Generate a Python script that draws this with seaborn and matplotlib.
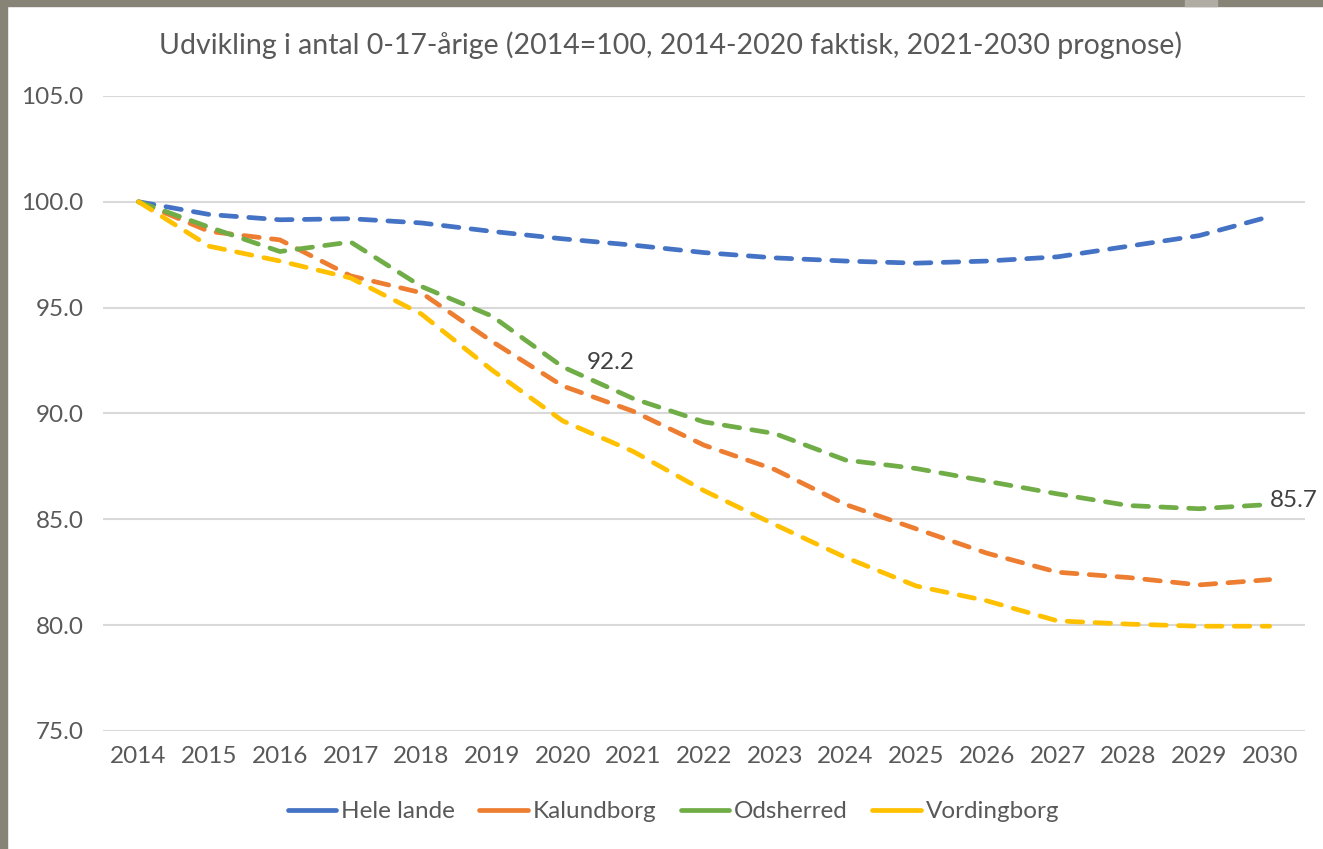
import numpy as np
import pandas as pd
import seaborn as sns
import matplotlib.pyplot as plt
from matplotlib.lines import Line2D
from matplotlib.patches import Rectangle

# Data
years = list(range(2014, 2031))
hele_lande = [100.0, 99.4, 99.15, 99.2, 99.0, 98.6, 98.25, 97.95, 97.6, 97.35,
              97.2, 97.1, 97.2, 97.4, 97.9, 98.4, 99.3]
kalundborg = [100.0, 98.6, 98.2, 96.5, 95.7, 93.4, 91.3, 90.1, 88.5, 87.35,
              85.7, 84.55, 83.4, 82.5, 82.25, 81.9, 82.15]
odsherred = [100.0, 98.8, 97.65, 98.1, 96.0, 94.6, 92.2, 90.7, 89.6, 89.05,
             87.8, 87.4, 86.8, 86.2, 85.65, 85.5, 85.7]
vordingborg = [100.0, 97.9, 97.2, 96.4, 94.7, 92.05, 89.65, 88.2, 86.35, 84.75,
               83.2, 81.85, 81.15, 80.2, 80.05, 79.95, 79.95]

series_names = ['Hele lande', 'Kalundborg', 'Odsherred', 'Vordingborg']
colors = ['#4472C4', '#ED7D31', '#70AD47', '#FFC000']
title = 'Udvikling i antal 0-17-årige (2014=100, 2014-2020 faktisk, 2021-2030 prognose)'
y_ticks = [75.0, 80.0, 85.0, 90.0, 95.0, 100.0, 105.0]

df = pd.DataFrame({'år': years, 'Hele lande': hele_lande, 'Kalundborg': kalundborg,
                   'Odsherred': odsherred, 'Vordingborg': vordingborg})
long_df = df.melt(id_vars='år', var_name='område', value_name='indeks')

sns.set_style('white')
plt.rcParams['font.family'] = ['Lato', 'DejaVu Sans']
text_color = '#595959'

fig = plt.figure(figsize=(13.23, 8.49), dpi=100)
ax = fig.add_axes([0.078, 0.139, 0.9084, 0.748])

sns.lineplot(data=long_df, x='år', y='indeks', hue='område', style='område',
             palette=dict(zip(series_names, colors)),
             dashes={n: (3.3, 2.6) for n in series_names},
             linewidth=3.4, ax=ax, legend=False, zorder=3)
for line in ax.get_lines():
    line.set_dash_capstyle('round')
    line.set_solid_capstyle('round')

ax.set_xlim(2013.5, 2030.5)
ax.set_ylim(75, 105)
ax.set_xticks(years)
ax.set_yticks(y_ticks)
ax.set_yticklabels([f'{v:.1f}' for v in y_ticks])
ax.set_xlabel('')
ax.set_ylabel('')
ax.tick_params(axis='both', length=0, labelsize=17.5, colors=text_color)
ax.tick_params(axis='x', pad=11)
ax.tick_params(axis='y', pad=14)
ax.grid(axis='y', color='#D9D9D9', linewidth=1.5)
ax.grid(axis='x', visible=False)
for s in ax.spines.values():
    s.set_visible(False)

# data labels
ax.annotate(f'{odsherred[6]:.1f}', xy=(years[6], odsherred[6]), xytext=(17, 3),
            textcoords='offset points', ha='left', va='center', fontsize=17.5, color='#404040')
ax.annotate(f'{odsherred[-1]:.1f}', xy=(years[-1], odsherred[-1]), xytext=(0, 3),
            textcoords='offset points', ha='left', va='center', fontsize=17.5, color='#404040')

fig.suptitle(title, x=0.507, y=0.947, va='center', fontsize=20.5, color=text_color)

handles = [Line2D([0], [0], color=c, linewidth=3.4, linestyle='-') for c in colors]
fig.legend(handles, series_names, loc='center', bbox_to_anchor=(0.509, 0.044), ncol=4,
           frameon=False, fontsize=17.5, labelcolor=text_color, handlelength=2.0,
           handletextpad=0.2, columnspacing=1.0)

# gray frame on top and left edge
fig.patches.append(Rectangle((0, 1 - 6 / 849), 1, 6 / 849, transform=fig.transFigure,
                             color='#878377', zorder=10))
fig.patches.append(Rectangle((0, 0), 7 / 1323, 1, transform=fig.transFigure,
                             color='#878377', zorder=10))
fig.patches.append(Rectangle((1185 / 1323, 1 - 6 / 849), 32 / 1323, 6 / 849,
                             transform=fig.transFigure, color='#B0ACA3', zorder=11))

fig.savefig('out.png', dpi=100)
